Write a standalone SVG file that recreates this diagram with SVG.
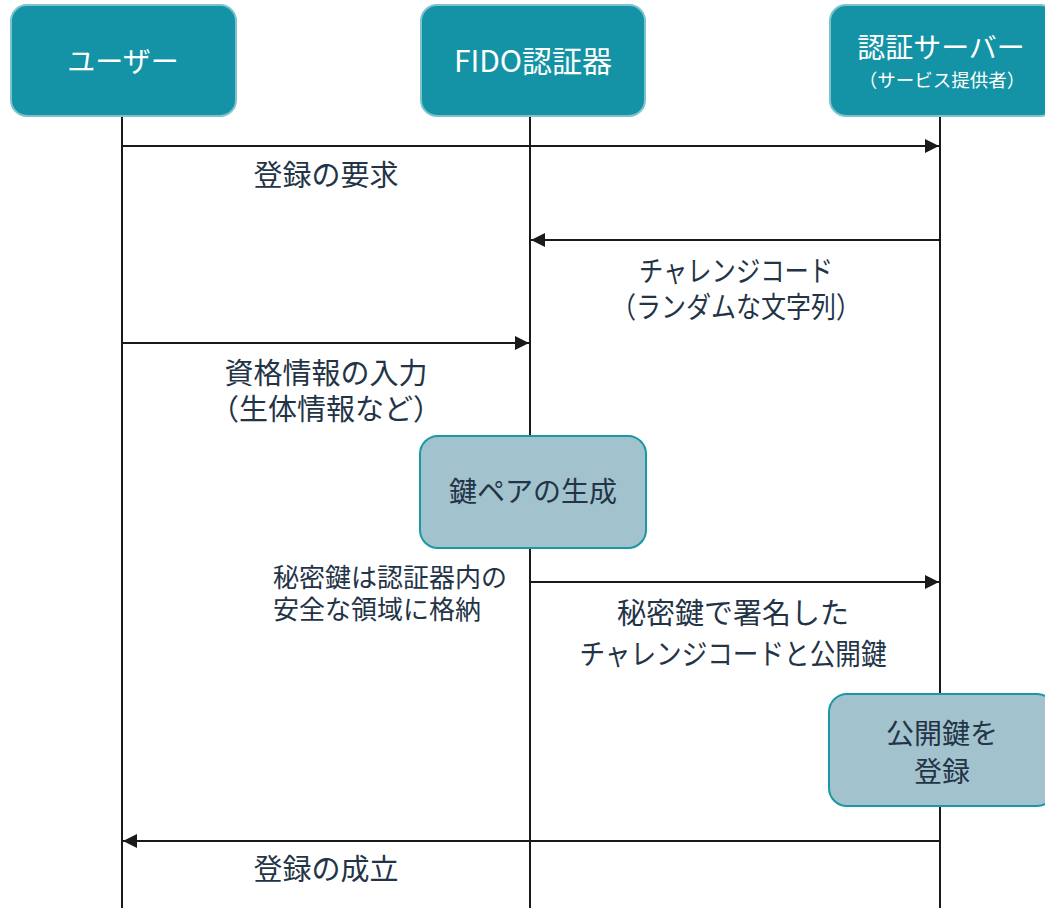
<svg xmlns="http://www.w3.org/2000/svg" width="1045" height="908" viewBox="0 0 1045 908">
<defs>
<marker id="ah" viewBox="0 0 10 10" refX="10" refY="5" markerWidth="14" markerHeight="14" markerUnits="userSpaceOnUse" orient="auto">
<path d="M0,0 L10,5 L0,10 z" fill="#1a1a1a"/>
</marker>
<style>
text{font-family:"Noto Sans CJK JP","Noto Sans",sans-serif;text-anchor:middle}
.actor{fill:#1393A5;stroke:#7CC3CD;stroke-width:2}
.proc{fill:#A2C3CD;stroke:#1A98A5;stroke-width:2}
.at{fill:#ffffff;font-size:28px}
.sub{fill:#ffffff;font-size:18.5px}
.pt{fill:#243447;font-size:28px}
.lbl{fill:#243447;font-size:29px}
.note{fill:#243447;font-size:26px;text-anchor:start}
.life{stroke:#1a1a1a;stroke-width:2;fill:none}
.msg{stroke:#1a1a1a;stroke-width:2;fill:none;marker-end:url(#ah)}
</style>
</defs>
<g id="lifelines">
<line class="life" x1="122" y1="116" x2="122" y2="908"/>
<line class="life" x1="530" y1="116" x2="530" y2="908"/>
<line class="life" x1="940" y1="116" x2="940" y2="908"/>
</g>
<g id="user">
<rect class="actor" x="11" y="5" width="225" height="111" rx="16"/>
<text class="at" x="123" y="72">ユーザー</text>
</g>
<g id="fido">
<rect class="actor" x="421" y="5" width="224" height="111" rx="16"/>
<text class="at" x="533" y="72" style="font-size:30px">FIDO認証器</text>
</g>
<g id="server">
<rect class="actor" x="830" y="5" width="226" height="111" rx="16"/>
<text class="at" x="941" y="58">認証サーバー</text>
<text class="sub" x="942" y="87">（サービス提供者）</text>
</g>
<g id="keygen">
<rect class="proc" x="420" y="436" width="226" height="112" rx="18"/>
<text class="pt" x="533" y="502">鍵ペアの生成</text>
</g>
<g id="register">
<rect class="proc" x="829" y="694" width="226" height="112" rx="18"/>
<text class="pt" x="942" y="744">公開鍵を</text>
<text class="pt" x="942" y="782">登録</text>
</g>
<g id="connectors">
<line class="msg" x1="122" y1="146" x2="939" y2="146"/>
<line class="msg" x1="940" y1="240" x2="531" y2="240"/>
<line class="msg" x1="122" y1="343" x2="529" y2="343"/>
<line class="msg" x1="530" y1="582" x2="939" y2="582"/>
<line class="msg" x1="940" y1="841" x2="123" y2="841"/>
</g>
<g id="labels">
<text class="lbl" x="326" y="186">登録の要求</text>
<text class="lbl" x="736" y="282" textLength="194" lengthAdjust="spacingAndGlyphs">チャレンジコード</text>
<text class="lbl" x="736" y="318" textLength="250" lengthAdjust="spacingAndGlyphs">（ランダムな文字列）</text>
<text class="lbl" x="326" y="384">資格情報の入力</text>
<text class="lbl" x="326" y="420">（生体情報など）</text>
<text class="note" x="273" y="587">秘密鍵は認証器内の</text>
<text class="note" x="273" y="619">安全な領域に格納</text>
<text class="lbl" x="733" y="624">秘密鍵で署名した</text>
<text class="lbl" x="733" y="665" textLength="307" lengthAdjust="spacingAndGlyphs">チャレンジコードと公開鍵</text>
<text class="lbl" x="326" y="880">登録の成立</text>
</g>
</svg>
